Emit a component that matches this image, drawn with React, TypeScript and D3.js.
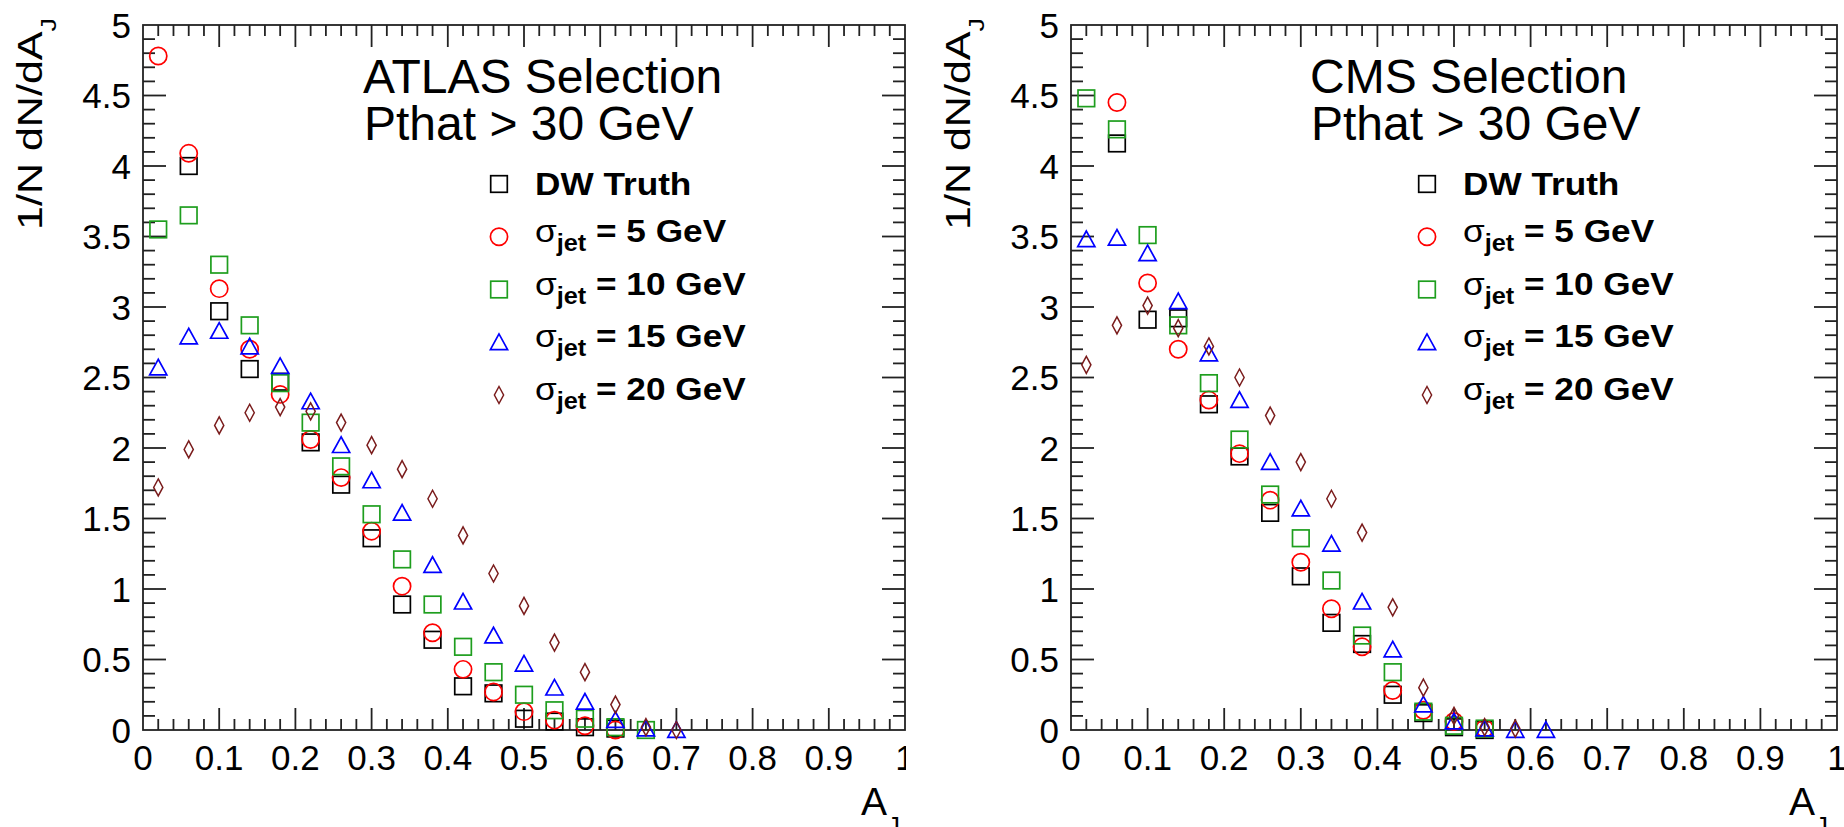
import React from "react";
import * as d3 from "d3";

// ---------- data ----------
const AJ_BINS = [0.02, 0.06, 0.1, 0.14, 0.18, 0.22, 0.26, 0.3, 0.34, 0.38, 0.42, 0.46, 0.5, 0.54, 0.58, 0.62, 0.66, 0.7];

const SERIES_LABELS = ["DW Truth", "5", "10", "15", "20"];

const ATLAS_TRUTH = [null, 4.0, 2.97, 2.56, 2.47, 2.04, 1.74, 1.36, 0.89, 0.64, 0.31, 0.26, 0.08, 0.06, 0.02, 0.01, null, null];
const ATLAS_S5 = [4.78, 4.09, 3.13, 2.7, 2.38, 2.06, 1.79, 1.41, 1.02, 0.69, 0.43, 0.27, 0.13, 0.07, 0.03, 0.0, null, null];
const ATLAS_S10 = [3.55, 3.65, 3.3, 2.87, 2.46, 2.18, 1.87, 1.53, 1.21, 0.89, 0.59, 0.41, 0.25, 0.14, 0.08, 0.02, 0.0, null];
const ATLAS_S15 = [2.57, 2.79, 2.83, 2.72, 2.58, 2.33, 2.02, 1.77, 1.54, 1.17, 0.91, 0.67, 0.47, 0.3, 0.2, 0.07, 0.01, 0.0];
const ATLAS_S20 = [1.72, 1.99, 2.16, 2.25, 2.29, 2.26, 2.18, 2.02, 1.85, 1.64, 1.38, 1.11, 0.88, 0.62, 0.41, 0.18, 0.02, 0.0];

const CMS_TRUTH = [null, 4.16, 2.91, 2.92, 2.31, 1.94, 1.54, 1.09, 0.76, 0.61, 0.25, 0.12, 0.02, 0.0, null, null, null, null];
const CMS_S5 = [null, 4.45, 3.17, 2.7, 2.34, 1.96, 1.63, 1.19, 0.86, 0.59, 0.28, 0.14, 0.06, 0.01, null, null, null, null];
const CMS_S10 = [4.48, 4.26, 3.51, 2.87, 2.46, 2.06, 1.67, 1.36, 1.06, 0.67, 0.41, 0.13, 0.03, 0.01, null, null, null, null];
const CMS_S15 = [3.48, 3.49, 3.38, 3.04, 2.67, 2.34, 1.9, 1.57, 1.32, 0.91, 0.57, 0.18, 0.06, 0.01, 0.0, 0.0, null, null];
const CMS_S20 = [2.59, 2.87, 3.01, 2.85, 2.72, 2.5, 2.23, 1.9, 1.64, 1.4, 0.87, 0.3, 0.1, 0.02, 0.01, null, null, null];

const X_TICK_LABELS = ["0", "0.1", "0.2", "0.3", "0.4", "0.5", "0.6", "0.7", "0.8", "0.9", "1"];
const Y_TICK_LABELS = ["0", "0.5", "1", "1.5", "2", "2.5", "3", "3.5", "4", "4.5", "5"];

// ---------- styles ----------
const FONT = "'Liberation Sans', Arial, Helvetica, sans-serif";
const MARKERS = [
  { shape: "square", color: "#000000" },
  { shape: "circle", color: "#ff0000" },
  { shape: "square", color: "#1e9e1e" },
  { shape: "triangle", color: "#0000ff" },
  { shape: "diamond", color: "#7a1c1c" },
];
const AXIS_COLOR = "#222";

function Marker({ shape, color, x, y }: { shape: string; color: string; x: number; y: number }) {
  const sw = 1.7;
  if (shape === "square")
    return <rect x={x - 8.3} y={y - 8.3} width={16.6} height={16.6} fill="none" stroke={color} strokeWidth={sw} />;
  if (shape === "circle") return <circle cx={x} cy={y} r={8.6} fill="none" stroke={color} strokeWidth={sw} />;
  if (shape === "triangle")
    return (
      <polygon
        points={`${x},${y - 8.3} ${x - 8.6},${y + 7.3} ${x + 8.6},${y + 7.3}`}
        fill="none"
        stroke={color}
        strokeWidth={sw}
      />
    );
  return (
    <polygon
      points={`${x},${y - 8.5} ${x + 4.6},${y} ${x},${y + 8.5} ${x - 4.6},${y}`}
      fill="none"
      stroke={color}
      strokeWidth={1.5}
    />
  );
}

type PanelProps = {
  left: number;
  right: number;
  top: number;
  bottom: number;
  series: (number | null)[][];
  title1: string;
  title2: string;
  titleX: number;
  clipRight?: number;
  id: string;
};

function Panel({ left, right, top, bottom, series, title1, title2, titleX, clipRight, id }: PanelProps) {
  const x = d3.scaleLinear().domain([0, 1]).range([left, right]);
  const y = d3.scaleLinear().domain([0, 5]).range([bottom, top]);

  const xMinor = d3.range(0, 51).map((i) => i / 50);
  const yMinor = d3.range(0, 51).map((i) => i / 10);
  const xMajor = X_TICK_LABELS.map((_, i) => i / 10);
  const yMajor = Y_TICK_LABELS.map((_, i) => i / 2);

  const ticks: JSX.Element[] = [];
  xMinor.forEach((v, i) => {
    const major = i % 5 === 0;
    const len = major ? 22 : 11;
    if (i === 0 || i === 50) return;
    ticks.push(<line key={`xb${i}`} x1={x(v)} x2={x(v)} y1={bottom} y2={bottom - len} />);
    ticks.push(<line key={`xt${i}`} x1={x(v)} x2={x(v)} y1={top} y2={top + len} />);
  });
  yMinor.forEach((v, i) => {
    const major = i % 5 === 0;
    const len = major ? 23 : 12;
    if (i === 0 || i === 50) return;
    ticks.push(<line key={`yl${i}`} x1={left} x2={left + len} y1={y(v)} y2={y(v)} />);
    ticks.push(<line key={`yr${i}`} x1={right} x2={right - len} y1={y(v)} y2={y(v)} />);
  });

  const legX = left + 356;
  const legTextX = left + 392;
  const legY = d3.scaleLinear().domain([0, 4]).range([184, 395]);

  return (
    <g fontFamily={FONT}>
      {clipRight !== undefined && (
        <defs>
          <clipPath id={`clip-${id}`}>
            <rect x={0} y={0} width={clipRight} height={827} />
          </clipPath>
        </defs>
      )}
      {/* frame & ticks */}
      <rect x={left} y={top} width={right - left} height={bottom - top} fill="none" stroke={AXIS_COLOR} strokeWidth={1.8} />
      <g stroke={AXIS_COLOR} strokeWidth={1.8}>{ticks}</g>

      {/* tick labels */}
      <g fontSize={35} fill="#000" textAnchor="middle" clipPath={clipRight !== undefined ? `url(#clip-${id})` : undefined}>
        {xMajor.map((v, i) => (
          <text key={`xl${i}`} x={x(v)} y={bottom + 40}>
            {X_TICK_LABELS[i]}
          </text>
        ))}
      </g>
      <g fontSize={35} fill="#000" textAnchor="end">
        {yMajor.map((v, i) => (
          <text key={`yl${i}`} x={left - 12} y={y(v) + 12.5}>
            {Y_TICK_LABELS[i]}
          </text>
        ))}
      </g>

      {/* axis titles */}
      <g transform={`translate(${left - 101},230) rotate(-90) scale(1.23,1)`}>
        <text x={0} y={0} fontSize={35} fill="#000">
          1/N dN/dA
          <tspan fontSize={22} dy={14}>
            J
          </tspan>
        </text>
      </g>
      <text x={left + 718} y={815} fontSize={39} fill="#000">
        A
        <tspan fontSize={26} dy={20}>
          J
        </tspan>
      </text>

      {/* title */}
      <text x={titleX} y={93} fontSize={48} fill="#000">
        {title1}
      </text>
      <text x={titleX + 1} y={140} fontSize={48} fill="#000">
        {title2}
      </text>

      {/* data */}
      {series.map((vals, si) => (
        <g key={`s${si}`}>
          {vals.map((v, i) =>
            v === null ? null : (
              <Marker key={i} shape={MARKERS[si].shape} color={MARKERS[si].color} x={x(AJ_BINS[i])} y={y(v)} />
            )
          )}
        </g>
      ))}

      {/* legend */}
      {SERIES_LABELS.map((lab, i) => {
        const cy = legY(i);
        return (
          <g key={`leg${i}`}>
            <Marker shape={MARKERS[i].shape} color={MARKERS[i].color} x={legX} y={cy} />
            {i === 0 ? (
              <g transform={`translate(${legTextX},${cy + 11}) scale(1.1,1)`}>
                <text fontSize={32} fontWeight="bold" fill="#000">
                  {lab}
                </text>
              </g>
            ) : (
              <g transform={`translate(${legTextX},${cy + 5}) scale(1.1,1)`}>
                <text fontSize={32} fontWeight="bold" fill="#000">
                  <tspan fontWeight="normal">σ</tspan>
                  <tspan fontSize={23} dy={9}>
                    jet
                  </tspan>
                  <tspan dy={-9}>{` = ${lab} GeV`}</tspan>
                </text>
              </g>
            )}
          </g>
        );
      })}
    </g>
  );
}

export default function App() {
  return (
    <svg
      width={1844}
      height={827}
      style={{ position: "absolute", left: 0, top: 0, display: "block", background: "#fff" }}
    >
      <rect x={0} y={0} width={1844} height={827} fill="#fff" />
      <Panel
        id="atlas"
        left={143}
        right={905}
        top={25}
        bottom={730}
        series={[ATLAS_TRUTH, ATLAS_S5, ATLAS_S10, ATLAS_S15, ATLAS_S20]}
        title1="ATLAS Selection"
        title2="Pthat > 30 GeV"
        titleX={363}
        clipRight={906}
      />
      <Panel
        id="cms"
        left={1071}
        right={1837}
        top={25}
        bottom={730}
        series={[CMS_TRUTH, CMS_S5, CMS_S10, CMS_S15, CMS_S20]}
        title1="CMS Selection"
        title2="Pthat > 30 GeV"
        titleX={1310}
      />
    </svg>
  );
}
